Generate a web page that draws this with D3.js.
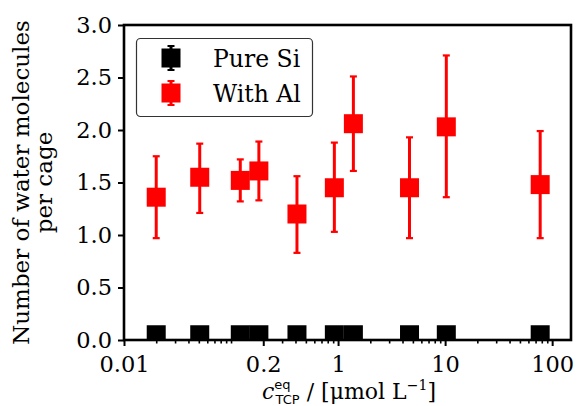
<!DOCTYPE html>
<html>
<head>
<meta charset="utf-8">
<script src="https://cdn.jsdelivr.net/npm/d3@7"></script>
<style>
  html, body { margin: 0; padding: 0; background: #fff; }
  svg { display: block; }
  text { font-family: "DejaVu Serif", serif; fill: #000; }
</style>
</head>
<body>
<svg id="chart" width="578" height="406"></svg>
<script>
// ---- data ----
const concentrations = [0.020, 0.051, 0.122, 0.182, 0.413, 0.923, 1.39, 4.65, 10.26, 77.3];
const withAl = [1.36, 1.55, 1.52, 1.61, 1.20, 1.45, 2.06, 1.45, 2.03, 1.48];
const withAlLow = [0.97, 1.21, 1.32, 1.33, 0.83, 1.03, 1.61, 0.97, 1.36, 0.97];
const withAlHigh = [1.75, 1.87, 1.72, 1.89, 1.56, 1.88, 2.51, 1.93, 2.71, 1.99];
const pureSi = [0.05, 0.05, 0.05, 0.05, 0.05, 0.05, 0.05, 0.05, 0.05, 0.05];
const xTickValues = [0.01, 0.2, 1, 10, 100];
const xTickLabels = ["0.01", "0.2", "1", "10", "100"];
const yTickValues = [0.0, 0.5, 1.0, 1.5, 2.0, 2.5, 3.0];
const seriesNames = ["Pure Si", "With Al"];
const seriesColors = ["#000000", "#ff0000"];

// ---- layout ----
const svg = d3.select("#chart");
const L = 124, R = 571, T = 25, B = 340;
const x = d3.scaleLog().domain([0.01, 150]).range([L, R]);
const y = d3.scaleLinear().domain([0, 3]).range([B, T]);

svg.append("defs").append("clipPath").attr("id", "plotclip")
  .append("rect").attr("x", L).attr("y", T).attr("width", R - L).attr("height", B - T);

// minor ticks
const minor = [];
for (let e = -2; e <= 2; e++) {
  for (let m = 2; m <= 9; m++) {
    const v = m * Math.pow(10, e);
    if (v <= 150 && !xTickValues.includes(v)) minor.push(v);
  }
}
minor.push(0.1);

const gMinor = svg.append("g").attr("transform", `translate(0,${B})`)
  .call(d3.axisBottom(x).tickValues(minor).tickSize(3.5).tickFormat(""));
gMinor.select(".domain").remove();
gMinor.selectAll("line").attr("stroke", "#000").attr("stroke-width", 1.6);

const gx = svg.append("g").attr("transform", `translate(0,${B})`)
  .call(d3.axisBottom(x).tickValues(xTickValues).tickSize(6).tickPadding(10)
    .tickFormat((d, i) => xTickLabels[i]));
gx.select(".domain").remove();
gx.selectAll("line").attr("stroke", "#000").attr("stroke-width", 2);
gx.selectAll("text").attr("font-size", 22.5).attr("font-family", "DejaVu Serif").attr("fill", "#000");

const gy = svg.append("g").attr("transform", `translate(${L},0)`)
  .call(d3.axisLeft(y).tickValues(yTickValues).tickSize(6).tickPadding(6)
    .tickFormat(d3.format(".1f")));
gy.select(".domain").remove();
gy.selectAll("line").attr("stroke", "#000").attr("stroke-width", 2);
gy.selectAll("text").attr("font-size", 22.5).attr("font-family", "DejaVu Serif").attr("fill", "#000");

// ---- marks ----
const plot = svg.append("g").attr("clip-path", "url(#plotclip)");
const sq = 19;
// Pure Si
plot.selectAll("rect.si").data(concentrations).join("rect").attr("class", "si")
  .attr("x", d => x(d) - sq / 2)
  .attr("y", (d, i) => y(pureSi[i]) - sq / 2)
  .attr("width", sq).attr("height", sq)
  .attr("fill", seriesColors[0]);

// With Al error bars
const cap = 3.5;
const eb = plot.selectAll("g.eb").data(concentrations).join("g").attr("class", "eb");
eb.append("line")
  .attr("x1", d => x(d)).attr("x2", d => x(d))
  .attr("y1", (d, i) => y(withAlLow[i])).attr("y2", (d, i) => y(withAlHigh[i]))
  .attr("stroke", seriesColors[1]).attr("stroke-width", 3);
eb.append("line")
  .attr("x1", d => x(d) - cap).attr("x2", d => x(d) + cap)
  .attr("y1", (d, i) => y(withAlLow[i])).attr("y2", (d, i) => y(withAlLow[i]))
  .attr("stroke", seriesColors[1]).attr("stroke-width", 2.2);
eb.append("line")
  .attr("x1", d => x(d) - cap).attr("x2", d => x(d) + cap)
  .attr("y1", (d, i) => y(withAlHigh[i])).attr("y2", (d, i) => y(withAlHigh[i]))
  .attr("stroke", seriesColors[1]).attr("stroke-width", 2.2);
plot.selectAll("rect.al").data(concentrations).join("rect").attr("class", "al")
  .attr("x", d => x(d) - sq / 2)
  .attr("y", (d, i) => y(withAl[i]) - sq / 2)
  .attr("width", sq).attr("height", sq)
  .attr("fill", seriesColors[1]);

// frame
svg.append("rect").attr("x", L).attr("y", T).attr("width", R - L).attr("height", B - T)
  .attr("fill", "none").attr("stroke", "#000").attr("stroke-width", 2.6);

// ---- legend ----
const lg = svg.append("g");
lg.append("rect").attr("x", 136.5).attr("y", 38.5).attr("width", 176).attr("height", 78)
  .attr("rx", 4).attr("fill", "#fff").attr("stroke", "#333").attr("stroke-width", 1.2);
const rows = [58, 93];
seriesNames.forEach((name, i) => {
  const cx = 171, cy = rows[i];
  lg.append("line").attr("x1", cx).attr("x2", cx).attr("y1", cy - 12).attr("y2", cy + 12)
    .attr("stroke", seriesColors[i]).attr("stroke-width", 3);
  lg.append("line").attr("x1", cx - cap).attr("x2", cx + cap).attr("y1", cy - 12).attr("y2", cy - 12)
    .attr("stroke", seriesColors[i]).attr("stroke-width", 2);
  lg.append("line").attr("x1", cx - cap).attr("x2", cx + cap).attr("y1", cy + 12).attr("y2", cy + 12)
    .attr("stroke", seriesColors[i]).attr("stroke-width", 2);
  lg.append("rect").attr("x", cx - sq / 2).attr("y", cy - sq / 2).attr("width", sq).attr("height", sq)
    .attr("fill", seriesColors[i]);
  lg.append("text").attr("x", 213).attr("y", cy + 9).attr("font-size", 23.5).text(name);
});

// ---- axis labels ----
const yl = svg.append("text")
  .attr("transform", `translate(0,${(T + B) / 2}) rotate(-90)`)
  .attr("text-anchor", "middle").attr("font-size", 23);
yl.append("tspan").attr("x", 0).attr("y", 29).text("Number of water molecules");
yl.append("tspan").attr("x", 0).attr("y", 52).text("per cage");

const xl = svg.append("text").attr("x", 349).attr("y", 399).attr("text-anchor", "middle").attr("font-size", 22);
xl.append("tspan").attr("font-style", "italic").text("c");
xl.append("tspan").attr("font-size", 13).attr("font-family", "DejaVu Sans").attr("dy", -10).text("eq");
xl.append("tspan").attr("font-size", 13).attr("font-family", "DejaVu Sans").attr("dx", -15).attr("dy", 15).text("TCP");
xl.append("tspan").attr("dy", -5).text(" / [μmol L");
xl.append("tspan").attr("font-size", 14).attr("dy", -9).text("−1");
xl.append("tspan").attr("dy", 9).text("]");
</script>
</body>
</html>
